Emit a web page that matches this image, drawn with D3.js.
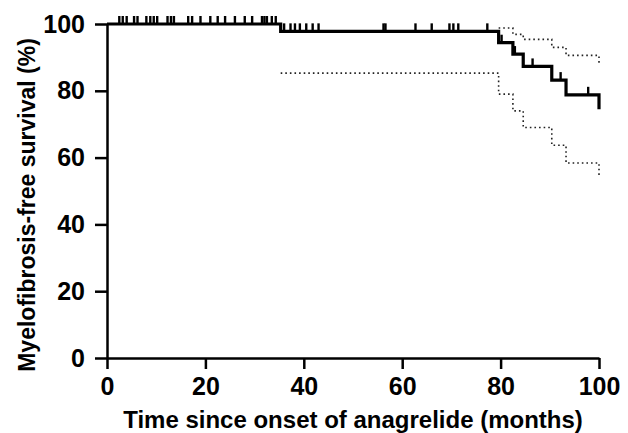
<!DOCTYPE html>
<html>
<head>
<meta charset="utf-8">
<script src="https://cdn.jsdelivr.net/npm/d3@7"></script>
<style>
  body { margin: 0; background: #fff; }
  text { font-family: "Liberation Sans", Arial, sans-serif; font-weight: bold; }
</style>
</head>
<body>
<div id="chart"></div>
<script>
// Kaplan-Meier step points (months, %)
var kmTime = [0, 35.3, 79.6, 82.5, 84.6, 90.4, 93.3, 100];
var kmSurv = [100, 97.8, 94.4, 91.0, 87.3, 83.2, 78.8, 74.5];

// 95% confidence band
var loTime = [35.3, 79.6, 82.5, 84.6, 90.4, 93.3, 100];
var loSurv = [85.3, 79.0, 74.0, 69.0, 63.7, 58.4, 53.9];
var upTime = [79.6, 82.5, 84.6, 90.4, 93.3, 100];
var upSurv = [98.8, 96.9, 95.4, 93.0, 90.6, 88.0];

// censored observations (months)
var censored = [2.5, 3.2, 4, 5.5, 6.2, 8, 8.8, 9.5, 10.2, 12.3, 13, 13.6, 16.5, 17.3, 19,
  21, 22.5, 24, 26, 28, 29.5, 31.5, 32, 32.5, 33.5, 34.3,
  36, 37.3, 38.2, 39.2, 40.5, 41.8, 43, 56.2, 56.6, 62.7, 66, 69.6, 70.4, 71.4, 77.3,
  80.2, 82.9, 86.5, 92.2, 97.8];

var xTicks = [0, 20, 40, 60, 80, 100];
var yTicks = [0, 20, 40, 60, 80, 100];

var margin = { top: 24, right: 29, bottom: 75, left: 107 },
  width = 628 - margin.left - margin.right,
  height = 433 - margin.top - margin.bottom;

var svg = d3.select("#chart")
  .append("svg")
  .attr("width", 628)
  .attr("height", 433)
  .append("g")
  .attr("transform", "translate(" + margin.left + "," + margin.top + ")");

var x = d3.scaleLinear().domain([0, 100]).range([0, width]);
var y = d3.scaleLinear().domain([0, 100]).range([height, 0]);

function zip(t, s) {
  return t.map(function (d, i) { return [d, s[i]]; });
}
function survAt(t) {
  var s = kmSurv[0];
  for (var i = 0; i < kmTime.length; i++) {
    if (kmTime[i] <= t) s = kmSurv[i];
  }
  return s;
}

var line = d3.line()
  .x(function (d) { return x(d[0]); })
  .y(function (d) { return y(d[1]); })
  .curve(d3.curveStepAfter);

// axes
var xAxis = svg.append("g")
  .attr("transform", "translate(0," + height + ")")
  .call(d3.axisBottom(x).tickValues(xTicks).tickSize(11).tickSizeOuter(0).tickPadding(8));
var yAxis = svg.append("g")
  .call(d3.axisLeft(y).tickValues(yTicks).tickSize(12).tickSizeOuter(0).tickPadding(10));

[xAxis, yAxis].forEach(function (a) {
  a.select(".domain").attr("stroke", "#000").attr("stroke-width", 2.5);
  a.selectAll(".tick line").attr("stroke", "#000").attr("stroke-width", 2.5);
  a.selectAll(".tick text")
    .attr("fill", "#000")
    .style("font-size", "25px");
});

// confidence band
svg.append("path")
  .datum(zip(loTime, loSurv))
  .attr("fill", "none")
  .attr("stroke", "#222")
  .attr("stroke-width", 1.6)
  .attr("stroke-dasharray", "1.6,3")
  .attr("d", line);
svg.append("path")
  .datum(zip(upTime, upSurv))
  .attr("fill", "none")
  .attr("stroke", "#222")
  .attr("stroke-width", 1.6)
  .attr("stroke-dasharray", "1.6,3")
  .attr("d", line);

// survival curve
svg.append("path")
  .datum(zip(kmTime, kmSurv))
  .attr("fill", "none")
  .attr("stroke", "#000")
  .attr("stroke-width", 3.2)
  .attr("d", line);

svg.selectAll(".cens")
  .data(censored)
  .enter()
  .append("line")
  .attr("class", "cens")
  .attr("x1", function (d) { return x(d); })
  .attr("x2", function (d) { return x(d); })
  .attr("y1", function (d) { return y(survAt(d)); })
  .attr("y2", function (d) { return y(survAt(d)) - 8; })
  .attr("stroke", "#000")
  .attr("stroke-width", 2.4);

// titles
svg.append("text")
  .attr("x", width / 2)
  .attr("y", height + 70)
  .attr("text-anchor", "middle")
  .style("font-size", "24px")
  .text("Time since onset of anagrelide (months)");

svg.append("text")
  .attr("transform", "translate(" + (-72) + "," + (height / 2 + 14) + ") rotate(-90)")
  .attr("text-anchor", "middle")
  .style("font-size", "23px")
  .text("Myelofibrosis-free survival (%)");
</script>
</body>
</html>
